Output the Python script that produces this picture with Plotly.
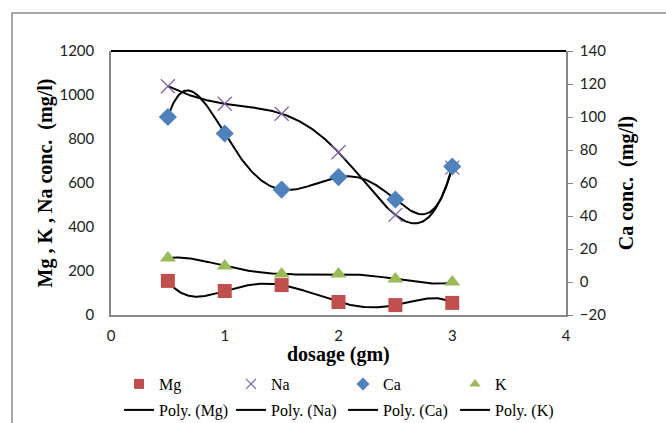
import numpy as np
import plotly.graph_objects as go

# dosage (gm)
dosage = [0.5, 1.0, 1.5, 2.0, 2.5, 3.0]

# concentrations (mg/l)
mg = [155, 109, 136, 59, 45, 55]
na = [1040, 960, 915, 740, 455, 670]
ca = [100, 90, 56, 63.6, 50, 70]
k = [259, 223, 186, 186, 164, 150]

x_ticks = [0, 1, 2, 3, 4]

colors = {"Mg": "#C0504D", "Na": "#8064A2", "Ca": "#4F81BD", "K": "#9BBB59"}
symbols = {"Mg": "square", "Na": "x-thin", "Ca": "diamond", "K": "triangle-up"}
series = [("Mg", mg, "y"), ("Na", na, "y"), ("Ca", ca, "y2"), ("K", k, "y")]

W, H = 666, 423
L, R, T, B = 111, 566, 51, 315


def px_x(p):
    return (p - L) / (R - L)


def px_y(p):
    return (B - p) / (B - T)


fig = go.Figure()

# 5th-order polynomial trendlines
xs = np.linspace(min(dosage), max(dosage), 300)
for name, vals, ax in series:
    coef = np.polyfit(dosage, vals, 5)
    fig.add_trace(go.Scatter(
        x=xs, y=np.polyval(coef, xs), yaxis=ax, mode="lines",
        line=dict(color="black", width=2), showlegend=False, hoverinfo="skip"))

# data markers
for name, vals, ax in series:
    marker = dict(color=colors[name], size=14, symbol=symbols[name])
    if name == "Na":
        marker = dict(color=colors[name], size=14, symbol="x-thin",
                      line=dict(color=colors[name], width=1.3))
    fig.add_trace(go.Scatter(x=dosage, y=vals, yaxis=ax, mode="markers",
                             marker=marker, showlegend=False, name=name))

# legend entries
for name, vals, ax in series:
    marker = dict(color=colors[name], size=10, symbol=symbols[name])
    if name == "Na":
        marker = dict(color=colors[name], size=10, symbol="x-thin",
                      line=dict(color=colors[name], width=1.3))
    fig.add_trace(go.Scatter(x=[None], y=[None], mode="markers", marker=marker,
                             name=name, legend="legend"))
for name, vals, ax in series:
    fig.add_trace(go.Scatter(x=[None], y=[None], mode="lines",
                             line=dict(color="black", width=2),
                             name=f"Poly. ({name})", legend="legend2"))

tick_font = dict(family="Lato", size=15, color="#222")
title_font = dict(family="Liberation Serif", size=20, color="black")
legend_font = dict(family="Liberation Serif", size=16, color="black")
axis_grey = "#868686"

fig.update_layout(
    width=W, height=H,
    margin=dict(l=L, r=W - R, t=T, b=H - B, autoexpand=False),
    paper_bgcolor="white", plot_bgcolor="white",
    xaxis=dict(range=[0, 4], tickvals=x_ticks, showgrid=False, zeroline=False,
               showline=True, linecolor=axis_grey, linewidth=1.5,
               tickfont=tick_font, ticklabelstandoff=6),
    yaxis=dict(range=[0, 1200], dtick=200, showgrid=False, zeroline=False,
               showline=True, linecolor=axis_grey, linewidth=1.5,
               tickfont=tick_font, ticklabelstandoff=12,
               title=dict(text="<b>Mg , K , Na conc. \u00a0(mg/l)</b>", font=title_font,
                          standoff=1)),
    yaxis2=dict(range=[-20, 140], dtick=20, overlaying="y", side="right",
                showgrid=False, zeroline=False, showline=True, linecolor=axis_grey,
                linewidth=1.5, ticks="outside", ticklen=5, tickcolor=axis_grey,
                tickfont=tick_font, ticklabelstandoff=4,
                title=dict(text="<b>Ca conc. \u00a0(mg/l)</b>", font=title_font,
                           standoff=14)),
    legend=dict(orientation="h", x=px_x(119), y=px_y(367), xanchor="left",
                yanchor="top", entrywidth=67, font=legend_font,
                bgcolor="rgba(0,0,0,0)"),
    legend2=dict(orientation="h", x=px_x(119), y=px_y(393), xanchor="left",
                 yanchor="top", entrywidth=67, font=legend_font,
                 bgcolor="rgba(0,0,0,0)"),
    annotations=[
        dict(text="<b>dosage (gm)</b>", font=title_font, xref="paper", yref="paper",
             x=0.5, y=px_y(354), xanchor="center", yanchor="middle",
             showarrow=False),
    ],
    shapes=[
        # top edge of plot area
        dict(type="line", xref="paper", yref="paper", x0=0, x1=1, y0=1, y1=1,
             line=dict(color="black", width=2)),
        # chart border
        dict(type="rect", xref="paper", yref="paper", x0=px_x(12), x1=px_x(700),
             y0=px_y(460), y1=px_y(13), line=dict(color="#8c8c8c", width=1.5),
             layer="below"),
    ],
)

fig.write_html("out.html")
